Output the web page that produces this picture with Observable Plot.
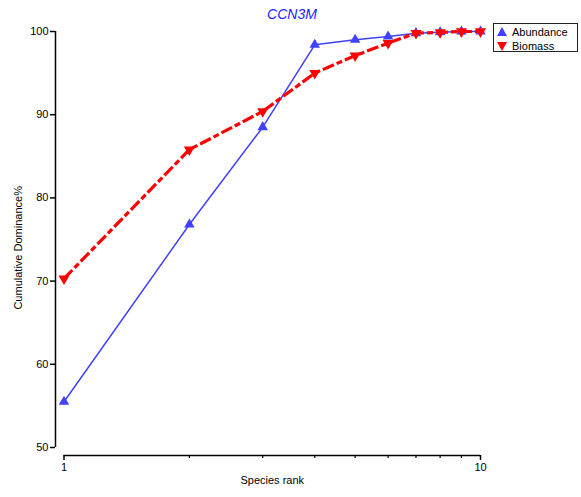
<!DOCTYPE html>
<html>
<head>
<meta charset="utf-8">
<script src="https://cdn.jsdelivr.net/npm/d3@7"></script>
<script src="https://cdn.jsdelivr.net/npm/@observablehq/plot@0.6"></script>
<style>
  html, body { margin: 0; padding: 0; background: #fff; }
  #wrap { position: relative; width: 581px; height: 497px; font-family: "Liberation Sans", Arial, sans-serif; }
  #title { position: absolute; left: 0; width: 584px; top: 6px; text-align: center; font-style: italic; font-size: 14px; color: #2222ff; }
  #legend { position: absolute; left: 493px; top: 23px; width: 83px; height: 27px; border: 1.5px solid #222; background: #fff; font-size: 11px; color: #000; }
  #legend .row { position: absolute; left: 0; height: 14px; line-height: 14px; }
  #legend svg { position: absolute; left: 3px; top: 1px; }
  #legend span { position: absolute; left: 18px; white-space: nowrap; }
</style>
</head>
<body>
<div id="wrap">
  <div id="chart"></div>
  <div id="title"></div>
  <div id="legend"></div>
</div>
<script>
const titleText = "CCN3M";
const ranks = [1, 2, 3, 4, 5, 6, 7, 8, 9, 10];
const abundance = [55.5, 76.8, 88.5, 98.4, 99.0, 99.4, 99.8, 99.9, 100, 100];
const biomass = [70.3, 85.8, 90.4, 95.0, 97.1, 98.6, 99.8, 99.9, 100, 100];
const seriesNames = ["Abundance", "Biomass"];
const seriesColors = ["#4040ff", "#ff0000"];
const yTicks = [50, 60, 70, 80, 90, 100];
const xMajorTicks = [1, 10];
const xMinorTicks = [2, 3, 4, 5, 6, 7, 8, 9];
const xLabel = "Species rank";
const yLabel = "Cumulative Dominance%";

const triangleDown = {
  draw(context, size) {
    const y = -Math.sqrt(size / (Math.sqrt(3) * 3));
    const s3 = Math.sqrt(3);
    context.moveTo(0, -y * 2);
    context.lineTo(-s3 * y, y);
    context.lineTo(s3 * y, y);
    context.closePath();
  }
};

const abData = ranks.map((r, i) => ({rank: r, value: abundance[i]}));
const bioData = ranks.map((r, i) => ({rank: r, value: biomass[i]}));

const chart = Plot.plot({
  width: 581,
  height: 497,
  marginLeft: 63.5,
  marginRight: 101,
  marginTop: 31,
  marginBottom: 50,
  style: {fontFamily: "Liberation Sans, Arial, sans-serif", fontSize: "11px", color: "#000", background: "#fff"},
  x: {type: "log", domain: [1, 10]},
  y: {domain: [50, 100]},
  marks: [
    Plot.ruleX([1], {y1: 50, y2: 100, dx: -8.5, stroke: "#000", strokeWidth: 1.5}),
    Plot.axisY({ticks: yTicks, tickSize: 5, tickPadding: 2, dx: -8.5, label: null, tickFormat: d => d, stroke: "#000", strokeWidth: 1.5}),
    Plot.ruleY([50], {x1: 1, x2: 10, dy: 8, stroke: "#000", strokeWidth: 1.5}),
    Plot.axisX({ticks: xMajorTicks, tickSize: 5, tickPadding: 3, dy: 8, label: null, tickFormat: d => d, stroke: "#000", strokeWidth: 1.5}),
    Plot.axisX({ticks: xMinorTicks, tickSize: 3, dy: 8, label: null, tickFormat: () => "", stroke: "#000", strokeWidth: 1.2}),
    Plot.text([xLabel], {frameAnchor: "bottom", dy: 36, fontSize: 11, fill: "#000"}),
    Plot.text([yLabel], {y: () => 74, frameAnchor: "left", dx: -45.5, rotate: -90, textAnchor: "middle", fontSize: 11, fill: "#000"}),
    Plot.line(abData, {x: "rank", y: "value", stroke: seriesColors[0], strokeWidth: 1.5}),
    Plot.dot(abData, {x: "rank", y: "value", symbol: "triangle", r: 3.9, fill: seriesColors[0], stroke: "none"}),
    Plot.line(bioData, {x: "rank", y: "value", stroke: seriesColors[1], strokeWidth: 3.2, strokeLinecap: "butt", strokeLinejoin: "miter", strokeDasharray: "12,3,6,3"}),
    Plot.dot(bioData, {x: "rank", y: "value", symbol: triangleDown, r: 4.1, fill: seriesColors[1], stroke: "none"})
  ]
});
document.getElementById("chart").appendChild(chart);
document.getElementById("title").textContent = titleText;

const legend = document.getElementById("legend");
seriesNames.forEach((name, i) => {
  const row = document.createElement("div");
  row.className = "row";
  row.style.top = (i === 0 ? 1 : 15) + "px";
  row.style.width = "100%";
  const pts = i === 0 ? "5,1 10,10 0,10" : "0,2 10,2 5,11";
  row.innerHTML = `<svg width="10" height="12"><polygon points="${pts}" fill="${seriesColors[i]}"/></svg><span>${name}</span>`;
  legend.appendChild(row);
});
</script>
</body>
</html>
